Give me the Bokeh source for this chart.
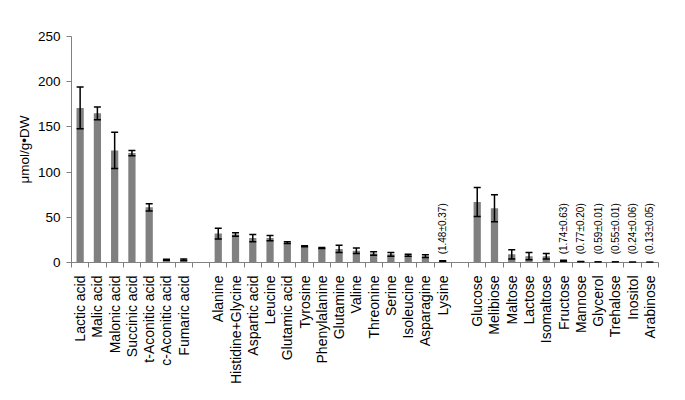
import math
import numpy as np
from bokeh.plotting import figure
from bokeh.models import ColumnDataSource, Range1d, FixedTicker, Whisker, TeeHead
from bokeh.core.properties import value
from bokeh.embed import file_html
from bokeh.resources import INLINE

acids = ["Lactic acid", "Malic acid", "Malonic acid", "Succinic acid", "t-Aconitic acid",
         "c-Aconitic acid", "Fumaric acid"]
acid_vals = [171, 165, 124, 121, 61, 3, 3]
acid_err = [23, 7, 20, 3, 4, 0.6, 0.8]

aminos = ["Alanine", "Histidine+Glycine", "Aspartic acid", "Leucine", "Glutamic acid",
          "Tyrosine", "Phenylalanine", "Glutamine", "Valine", "Threonine", "Serine",
          "Isoleucine", "Asparagine", "Lysine"]
amino_vals = [32, 31, 27, 27, 22, 18, 16, 15, 13, 10, 9, 8, 7, 1.48]
amino_err = [6, 2, 4, 3, 1, 0.5, 0.5, 4, 3, 2, 2, 1, 1.5, 0.37]

sugars = ["Glucose", "Melibiose", "Maltose", "Lactose", "Isomaltose", "Fructose",
          "Mannose", "Glycerol", "Trehalose", "Inositol", "Arabinose"]
sugar_vals = [67, 60, 9, 7, 7, 1.74, 0.77, 0.59, 0.55, 0.24, 0.13]
sugar_err = [16, 15, 5, 4, 3, 0.63, 0.20, 0.01, 0.01, 0.06, 0.05]

annot_names = ["Lysine", "Fructose", "Mannose", "Glycerol", "Trehalose", "Inositol", "Arabinose"]
annot_texts = ["(1.48±0.37)", "(1.74±0.63)", "(0.77±0.20)", "(0.59±0.01)",
               "(0.55±0.01)", "(0.24±0.06)", "(0.13±0.05)"]

# slot layout: groups separated by one empty slot
slots = acids + [""] + aminos + [""] + sugars
names = acids + aminos + sugars
vals = acid_vals + amino_vals + sugar_vals
errs = acid_err + amino_err + sugar_err
xs = [slots.index(n) for n in names]
n_slots = len(slots)

src = ColumnDataSource(dict(
    x=xs, top=vals,
    upper=[v + e for v, e in zip(vals, errs)],
    lower=[v - e for v, e in zip(vals, errs)],
))
asrc = ColumnDataSource(dict(
    x=[slots.index(n) for n in annot_names],
    y=[9] * len(annot_names),
    text=annot_texts,
))

FONT = "Liberation Sans"

p = figure(width=669, height=392, output_backend="svg", toolbar_location=None,
           x_range=Range1d(-0.5, n_slots - 0.5), y_range=Range1d(0, 250),
           min_border_left=71, min_border_right=11, min_border_top=36, min_border_bottom=130)
p.xgrid.visible = False
p.ygrid.visible = False
p.outline_line_color = None
p.background_fill_color = "white"

p.vbar(x="x", top="top", width=0.42, source=src, fill_color="#808080", line_color=None)
p.add_layout(Whisker(source=src, base="x", upper="upper", lower="lower",
                     line_color="black", line_width=1.5, level="overlay",
                     upper_head=TeeHead(size=7, line_color="black", line_width=1.5),
                     lower_head=TeeHead(size=7, line_color="black", line_width=1.5)))

p.text(x="x", y="y", text="text", source=asrc, angle=math.pi / 2,
       text_align="left", text_baseline="middle",
       text_font=value(FONT), text_font_size="10px", text_color="black")

# x axis
xa = p.xaxis[0]
xa.ticker = FixedTicker(ticks=list(range(n_slots)),
                        minor_ticks=[i - 0.5 for i in range(n_slots + 1)])
xa.major_label_overrides = {i: s for i, s in enumerate(slots)}
xa.major_tick_out = 0
xa.major_tick_in = 0
xa.minor_tick_out = 5
xa.minor_tick_in = 0
xa.minor_tick_line_color = "#808080"
xa.axis_line_color = "#808080"
xa.major_label_orientation = math.pi / 2
xa.major_label_standoff = 8
xa.major_label_text_font = FONT
xa.major_label_text_font_size = "14px"
xa.major_label_text_color = "black"

# y axis
ya = p.yaxis[0]
ya.ticker = FixedTicker(ticks=[0, 50, 100, 150, 200, 250])
ya.minor_tick_line_color = None
ya.major_tick_out = 5
ya.major_tick_in = 0
ya.major_tick_line_color = "#808080"
ya.axis_line_color = "#808080"
ya.major_label_text_font = FONT
ya.major_label_text_font_size = "13.5px"
ya.major_label_text_color = "black"
ya.major_label_standoff = 6
ya.axis_label = "μmol/g•DW"
ya.axis_label_text_font = FONT
ya.axis_label_text_font_size = "13.5px"
ya.axis_label_text_font_style = "normal"
ya.axis_label_text_color = "black"
ya.axis_label_standoff = 3

open("out.html", "w").write(file_html(p, INLINE))
